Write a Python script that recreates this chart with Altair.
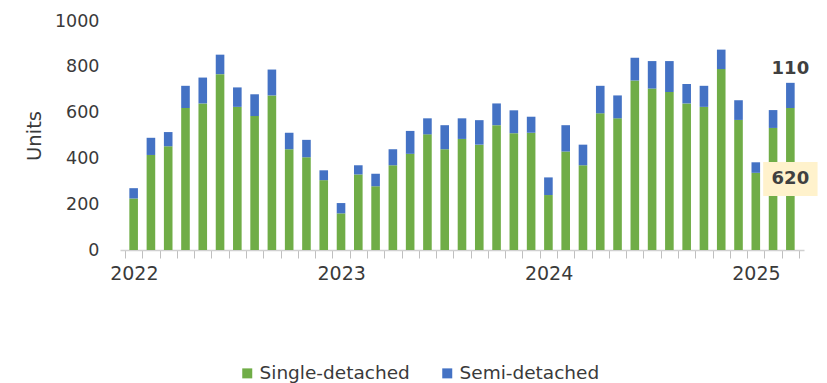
import altair as alt
import pandas as pd

# Monthly housing starts, Jan 2022 - Mar 2025
years = ["2022", "2023", "2024", "2025"]
single = [225, 415, 453, 620, 640, 768, 625, 585, 675, 440, 405, 305,
          160, 330, 278, 370, 420, 505, 440, 485, 460, 545, 510, 512,
          240, 430, 370, 597, 575, 740, 705, 690, 640, 625, 790, 568,
          337, 533, 620]
semi = [45, 75, 62, 97, 113, 85, 85, 95, 113, 72, 76, 43,
        45, 40, 55, 70, 100, 70, 105, 90, 107, 95, 100, 70,
        77, 115, 90, 120, 100, 100, 120, 135, 85, 92, 85, 86,
        46, 78, 110]
series = ["Single-detached", "Semi-detached"]
colors = ["#70AD47", "#4472C4"]

n = len(single)
rows = []
for i in range(n):
    rows.append({"idx": i, "type": series[0], "units": single[i], "ord": 0})
    rows.append({"idx": i, "type": series[1], "units": semi[i], "ord": 1})
df = pd.DataFrame(rows)

last = pd.DataFrame([{
    "idx": n - 1,
    "single": single[-1],
    "semi": semi[-1],
    "mid": single[-1] / 2,
    "total": single[-1] + semi[-1],
}])

FONT = "DejaVu Sans"
TXT = "#3a3a3a"

# year label shown under each January band
year_map = "{" + ", ".join(f"'{12 * k - 0.5}': '{y}'" for k, y in enumerate(years)) + "}"
label_expr = f"{year_map}[''+datum.value] || ''"

x_scale = alt.Scale(domain=[-0.5, n - 0.5], nice=False, zero=False)
y_scale = alt.Scale(domain=[0, 1000], nice=False)

x_axis = alt.Axis(values=[i - 0.5 for i in range(n + 1)],
                  labelExpr=label_expr, labelOffset=8.8,
                  tickColor="#BFBFBF", tickSize=8, tickWidth=1,
                  domainColor="#D0D0D0", domainWidth=1.5,
                  labelFont=FONT, labelFontSize=19, labelColor=TXT,
                  labelPadding=6, grid=False, labelFlush=False,
                  labelOverlap=False)
y_axis = alt.Axis(values=[0, 200, 400, 600, 800, 1000], grid=False,
                  format="d", domain=False, ticks=False, tickSize=0,
                  labelFont=FONT, labelFontSize=17.5, labelColor=TXT,
                  labelPadding=21, titleFont=FONT, titleFontSize=19.5,
                  titleFontWeight="normal", titleColor=TXT,
                  titlePadding=10)


def xpos():
    return alt.X("idx:Q", scale=x_scale, title=None, axis=x_axis)


def ypos(field):
    return alt.Y(field, scale=y_scale, title="Units", axis=y_axis)


bars = alt.Chart(df).mark_bar(width=8.6).encode(
    x=xpos(),
    y=alt.Y("units:Q", stack="zero", scale=y_scale, title="Units", axis=y_axis),
    color=alt.Color("type:N", scale=alt.Scale(domain=series, range=colors),
                    title=None,
                    legend=alt.Legend(orient="none", direction="horizontal",
                                      legendX=118, legendY=343,
                                      symbolType="square", symbolSize=100,
                                      symbolStrokeWidth=0,
                                      labelFont=FONT, labelFontSize=18.5,
                                      labelColor=TXT, columnPadding=28,
                                      labelOffset=3)),
    order=alt.Order("ord:Q"),
)

# highlighted label box centred on the last month's single-detached segment
box_shape = "M-1.6,-1H1.6V1H-1.6Z"
box = alt.Chart(last).mark_point(shape=box_shape, filled=True, size=1156,
                                 color="#FFF2CC", opacity=1, strokeWidth=0).encode(
    x=xpos(), y=ypos("mid:Q"),
)
box_text = alt.Chart(last).mark_text(font=FONT, fontSize=18, fontWeight="bold",
                                     color="#404040", baseline="middle").encode(
    x=xpos(), y=ypos("mid:Q"), text=alt.Text("single:Q"),
)
top_text = alt.Chart(last).mark_text(font=FONT, fontSize=18, fontWeight="bold",
                                     color="#404040", baseline="alphabetic",
                                     dy=-9).encode(
    x=xpos(), y=ypos("total:Q"), text=alt.Text("semi:Q"),
)

chart = alt.layer(bars, box, box_text, top_text).properties(
    width=684, height=229,
    background="white",
    autosize=alt.AutoSizeParams(type="none"),
    padding={"left": 120, "top": 21, "right": 23, "bottom": 133},
).configure_view(stroke=None).configure_axis(grid=False)

chart.save("out.html", embed_options={"renderer": "svg", "actions": False})
